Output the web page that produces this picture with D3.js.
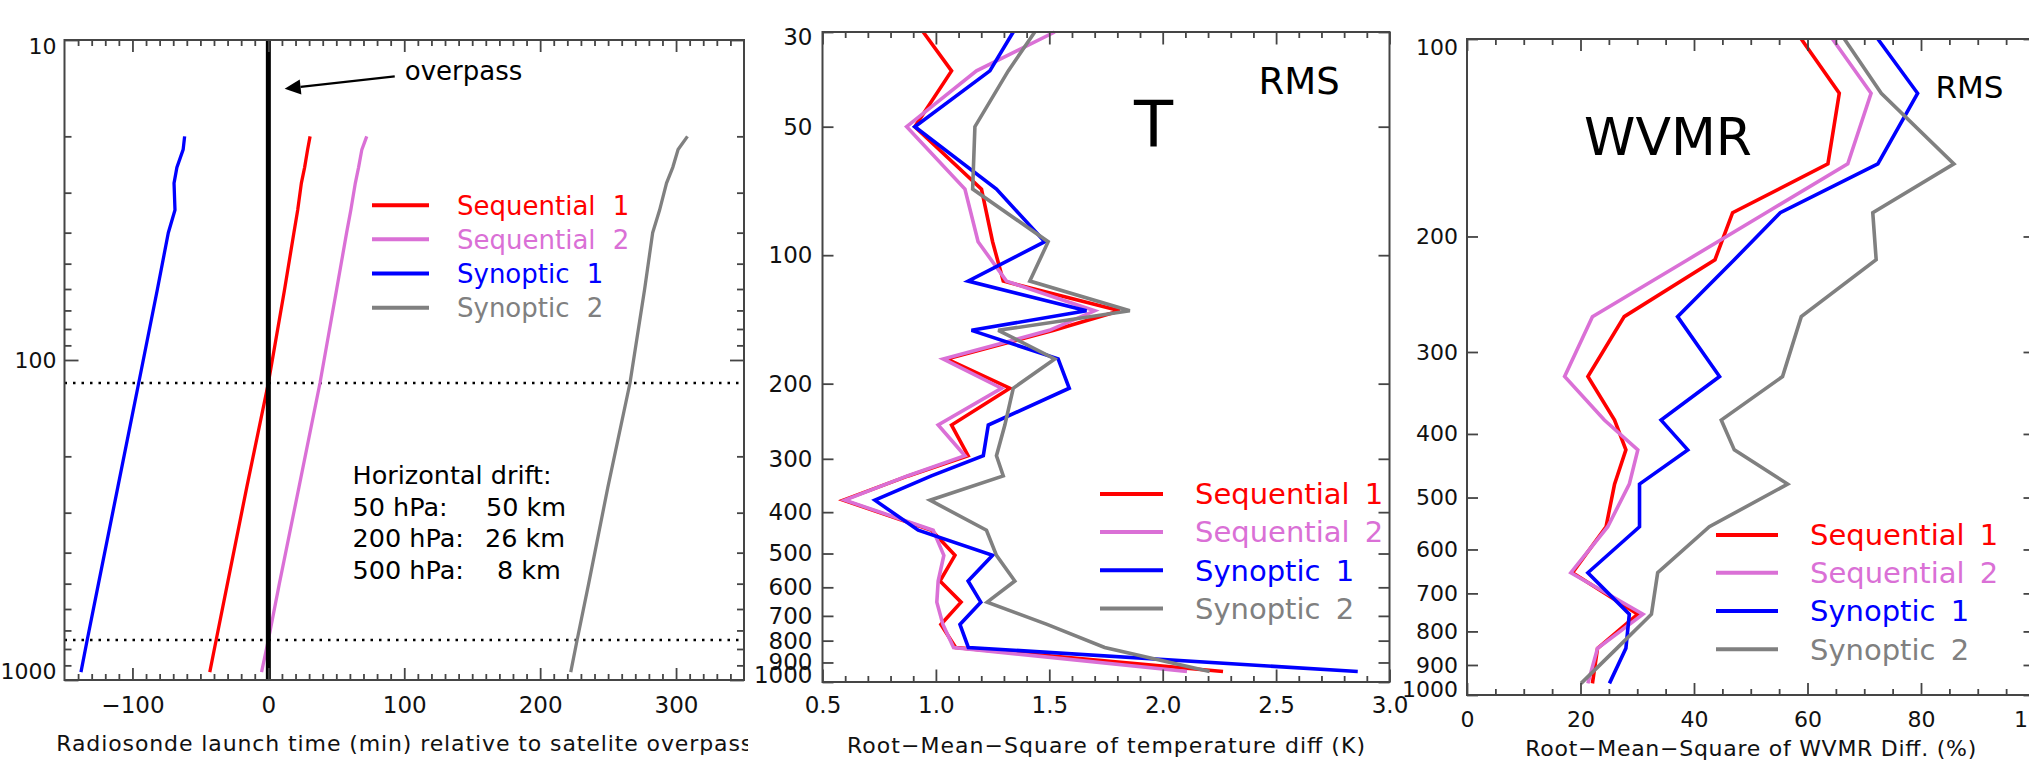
<!DOCTYPE html>
<html>
<head>
<meta charset="utf-8">
<script src="https://cdn.jsdelivr.net/npm/d3@7"></script>
<style>
  html, body { margin: 0; padding: 0; background: #fff; }
  svg { display: block; }
  text { font-family: "DejaVu Sans", sans-serif; }
</style>
</head>
<body>
<svg id="fig" width="2029" height="767"></svg>
<script>
// ---------------- data ----------------
const seriesNames  = ["Sequential 1", "Sequential 2", "Synoptic 1", "Synoptic 2"];
const seriesColors = ["#ff0000", "#da70d6", "#0000ff", "#808080"];

// Launch time (min, relative to overpass) vs pressure (hPa)
const launchLevels = [20, 22, 25, 28, 34, 40, 60, 118, 250, 500, 750, 945];
const launchSeq1 = [30.7, 28.9, 26.7, 24.3, 21.6, 18.8, 12.0, 0, -15.9, -30.1, -38.4, -43.1];
const launchSeq2 = [72.4, 68.8, 66.4, 64.0, 60.7, 57.6, 50.3, 38.0, 22.5, 8.1, 0, -5.0];
const launchSyn1 = [-61.6, -62.7, -67.3, -69.4, -68.7, -73.6, -81.6, -95.4, -110.8, -125.0, -133.3, -137.9];
const launchSyn2 = [308.4, 301.5, 297.6, 293.0, 287.9, 282.8, 276.9, 266.1, 249.8, 235.7, 227.2, 222.5];
const overpassLevels = [118, 750];

// Temperature RMS difference (K)
const tLevels = [30, 37, 50, 70, 93, 115, 135, 150, 175, 205, 250, 295, 329, 375, 441, 505, 580, 650, 733, 830, 945];
const tSeq1 = [0.944, 1.069, 0.907, 1.201, 1.250, 1.297, 1.811, 1.520, 1.047, 1.326, 1.069, 1.142, 0.878, 0.592, 0.981, 1.084, 1.018, 1.111, 1.022, 1.087, 2.266];
const tSeq2 = [1.524, 1.179, 0.871, 1.128, 1.186, 1.311, 1.700, 1.500, 1.032, 1.289, 1.010, 1.128, 0.874, 0.599, 0.988, 1.035, 1.010, 1.004, 1.031, 1.078, 2.107];
const tSyn1 = [1.341, 1.238, 0.907, 1.267, 1.480, 1.142, 1.664, 1.157, 1.539, 1.588, 1.231, 1.209, 0.980, 0.731, 0.922, 1.250, 1.142, 1.198, 1.106, 1.143, 2.860];
const tSyn2 = [1.436, 1.319, 1.172, 1.162, 1.495, 1.414, 1.855, 1.275, 1.524, 1.341, 1.304, 1.267, 1.297, 0.974, 1.223, 1.267, 1.348, 1.226, 1.490, 1.744, 2.207];

// Water vapour mixing ratio RMS difference (%)
const wLevels = [100, 121, 155, 184, 217, 265, 327, 381, 423, 477, 554, 651, 753, 849, 960];
const wSeq1 = [58.9, 65.6, 63.6, 46.8, 43.7, 27.7, 21.3, 26.0, 28.0, 26.0, 24.5, 18.6, 30.1, 23.0, 22.1];
const wSeq2 = [64.4, 71.2, 67.1, 52.7, 38.9, 22.1, 17.2, 24.2, 30.1, 28.6, 24.8, 18.3, 31.0, 23.0, 21.3];
const wSyn1 = [72.4, 79.4, 72.4, 55.2, 47.1, 37.1, 44.5, 34.2, 38.9, 30.4, 30.4, 21.3, 28.6, 28.0, 25.1];
const wSyn2 = [66.5, 73.0, 85.8, 71.5, 72.1, 58.9, 55.6, 44.8, 47.1, 56.5, 42.7, 33.6, 32.5, 26.4, 20.1];

// ---------------- drawing ----------------
const svg = d3.select("#fig");
svg.append("rect").attr("width", 2029).attr("height", 767).attr("fill", "#fff");

const FRAME = "#454545";
const range = (a, b, s) => d3.range(a, b + s / 2, s).map(v => +v.toFixed(6));

function axesBox(g, x, y, o) {
  const [x0, x1] = x.range();
  const [y0, y1] = y.range();
  const xMinor = o.xMinor.filter(v => !o.xMajor.some(m => Math.abs(m - v) < 1e-9));
  const yMinor = (o.yMinor || []).filter(v => !o.yMajor.some(m => Math.abs(m - v) < 1e-9));

  const parts = [];
  // bottom, with labels
  parts.push(g.append("g").attr("transform", `translate(0,${y1})`)
    .call(d3.axisBottom(x).tickValues(o.xMajor).tickSize(-o.xMajorLen).tickSizeOuter(0)
      .tickPadding(o.xPad).tickFormat(o.xFormat)));
  parts.push(g.append("g").attr("transform", `translate(0,${y1})`)
    .call(d3.axisBottom(x).tickValues(xMinor).tickSize(-o.xMinorLen).tickSizeOuter(0).tickFormat("")));
  // top mirror
  parts.push(g.append("g").attr("transform", `translate(0,${y0})`)
    .call(d3.axisTop(x).tickValues(o.xMajor).tickSize(-o.xMajorLen).tickSizeOuter(0).tickFormat("")));
  parts.push(g.append("g").attr("transform", `translate(0,${y0})`)
    .call(d3.axisTop(x).tickValues(xMinor).tickSize(-o.xMinorLen).tickSizeOuter(0).tickFormat("")));
  // left, with labels
  const left = g.append("g").attr("transform", `translate(${x0},0)`)
    .call(d3.axisLeft(y).tickValues(o.yMajor).tickSize(-o.yMajorLen).tickSizeOuter(0)
      .tickPadding(o.yPad).tickFormat(d => String(d)));
  parts.push(left);
  parts.push(g.append("g").attr("transform", `translate(${x0},0)`)
    .call(d3.axisLeft(y).tickValues(yMinor).tickSize(-o.yMinorLen).tickSizeOuter(0).tickFormat("")));
  // right mirror
  parts.push(g.append("g").attr("transform", `translate(${x1},0)`)
    .call(d3.axisRight(y).tickValues(o.yMajor).tickSize(-o.yMajorLen).tickSizeOuter(0).tickFormat("")));
  parts.push(g.append("g").attr("transform", `translate(${x1},0)`)
    .call(d3.axisRight(y).tickValues(yMinor).tickSize(-o.yMinorLen).tickSizeOuter(0).tickFormat("")));

  parts.forEach(p => {
    p.attr("font-family", null).attr("font-size", null);
    p.select(".domain").remove();
    p.selectAll(".tick line").attr("stroke", FRAME).attr("stroke-width", 1.8);
    p.selectAll(".tick text").attr("fill", "#111").style("font-size", o.fontSize + "px");
  });
  left.selectAll(".tick text").style("font-size", (o.yFontSize || o.fontSize) + "px");

  // the end labels of the pressure axis sit inside the frame
  const lt = left.selectAll(".tick text");
  lt.filter((d, i) => i === 0).attr("y", o.firstShift);
  lt.filter((d, i, n) => i === n.length - 1).attr("y", o.lastShift);

  g.append("rect")
    .attr("x", x0).attr("y", y0).attr("width", x1 - x0).attr("height", y1 - y0)
    .attr("fill", "none").attr("stroke", FRAME).attr("stroke-width", 2);

  g.append("text")
    .attr("x", (x0 + x1) / 2).attr("y", o.titleY)
    .attr("text-anchor", "middle")
    .attr("textLength", o.titleLen).attr("lengthAdjust", "spacing")
    .style("font-size", "22px").attr("fill", "#111")
    .text(o.title);
}

function drawSeries(g, x, y, levels, arrays, width) {
  const line = d3.line().x(d => x(d.v)).y(d => y(d.p));
  arrays.forEach((arr, k) => {
    const pts = levels.map((p, i) => ({ p, v: arr[i] }));
    g.append("path").datum(pts)
      .attr("d", line)
      .attr("fill", "none")
      .attr("stroke", seriesColors[k])
      .attr("stroke-width", width)
      .attr("stroke-linejoin", "miter")
      .attr("stroke-miterlimit", 3);
  });
}

function drawLegend(g, x0, x1, tx, ys, fs, ws) {
  seriesNames.forEach((name, k) => {
    g.append("line")
      .attr("x1", x0).attr("x2", x1).attr("y1", ys[k]).attr("y2", ys[k])
      .attr("stroke", seriesColors[k]).attr("stroke-width", 4);
    g.append("text")
      .attr("x", tx).attr("y", ys[k] + fs * 0.36)
      .attr("fill", seriesColors[k])
      .style("font-size", fs + "px")
      .style("word-spacing", ws + "px")
      .text(name);
  });
}

// ---- Panel 1: launch time ----
svg.append("defs").append("clipPath").attr("id", "clip-launch")
  .append("rect").attr("x", 0).attr("y", 0).attr("width", 748).attr("height", 767);
const g1 = svg.append("g").attr("clip-path", "url(#clip-launch)");
const x1s = d3.scaleLinear().domain([-150, 350]).range([64.5, 744]);
const y1s = d3.scaleLog().domain([10, 1000]).range([40, 680]);

// overpass reference lines
overpassLevels.forEach(p => {
  g1.append("line")
    .attr("x1", x1s.range()[0]).attr("x2", x1s.range()[1])
    .attr("y1", y1s(p)).attr("y2", y1s(p))
    .attr("stroke", "#000").attr("stroke-width", 2.4).attr("stroke-dasharray", "2.5,6");
});

drawSeries(g1, x1s, y1s, launchLevels, [launchSeq1, launchSeq2, launchSyn1, launchSyn2], 3.3);

g1.append("line")
  .attr("x1", x1s(0)).attr("x2", x1s(0)).attr("y1", y1s(10)).attr("y2", y1s(1000))
  .attr("stroke", "#000").attr("stroke-width", 5);

axesBox(g1, x1s, y1s, {
  xMajor: [-100, 0, 100, 200, 300], xMinor: range(-140, 340, 10),
  yMajor: [10, 100, 1000], yMinor: [20, 30, 40, 50, 60, 70, 80, 90, 200, 300, 400, 500, 600, 700, 800, 900],
  xMajorLen: 12, xMinorLen: 6, yMajorLen: 14, yMinorLen: 7,
  xPad: 17, yPad: 8, fontSize: 23, yFontSize: 22,
  xFormat: d => d < 0 ? "\u2212" + Math.abs(d) : String(d),
  firstShift: 6, lastShift: -9,
  title: "Radiosonde launch time (min) relative to satelite overpass",
  titleY: 751, titleLen: 696
});

// arrow pointing at the overpass line
const arrowFrom = [93, 13.0], arrowTo = [12, 14.2];
{
  const ax0 = x1s(arrowFrom[0]), ay0 = y1s(arrowFrom[1]);
  const ax1 = x1s(arrowTo[0]), ay1 = y1s(arrowTo[1]);
  const ang = Math.atan2(ay1 - ay0, ax1 - ax0);
  const L = 16, Wd = 7.5;
  const bx = ax1 - L * Math.cos(ang), by = ay1 - L * Math.sin(ang);
  g1.append("line").attr("x1", ax0).attr("y1", ay0).attr("x2", bx).attr("y2", by)
    .attr("stroke", "#000").attr("stroke-width", 2.2);
  g1.append("path")
    .attr("d", `M${ax1},${ay1} L${bx - Wd * Math.sin(ang)},${by + Wd * Math.cos(ang)} L${bx + Wd * Math.sin(ang)},${by - Wd * Math.cos(ang)} Z`)
    .attr("fill", "#000");
  g1.append("text").attr("x", ax0 + 10).attr("y", ay0 + 4)
    .style("font-size", "26px").attr("fill", "#000").text("overpass");
}

drawLegend(g1, 372, 429, 457, [205.3, 239.2, 273.4, 307.8], 26, 9);

// drift notes
const driftRows = [["Horizontal drift:", ""], ["50 hPa:", "50 km"], ["200 hPa:", "26 km"], ["500 hPa:", "8 km"]];
const driftCol2 = [0, 486, 485, 497];
driftRows.forEach((r, i) => {
  const yy = 484 + i * 31.7;
  g1.append("text").attr("x", 352.5).attr("y", yy).style("font-size", "25.5px").attr("fill", "#000").text(r[0]);
  if (r[1]) g1.append("text").attr("x", driftCol2[i]).attr("y", yy).style("font-size", "25.5px").attr("fill", "#000").text(r[1]);
});

// ---- Panel 2: temperature ----
const g2 = svg.append("g");
const x2s = d3.scaleLinear().domain([0.5, 3.0]).range([822.5, 1389.5]);
const y2s = d3.scaleLog().domain([30, 1000]).range([32, 682]);
drawSeries(g2, x2s, y2s, tLevels, [tSeq1, tSeq2, tSyn1, tSyn2], 3.6);
axesBox(g2, x2s, y2s, {
  xMajor: range(0.5, 3.0, 0.5), xMinor: range(0.5, 3.0, 0.1),
  yMajor: [30, 50, 100, 200, 300, 400, 500, 600, 700, 800, 900, 1000], yMinor: [],
  xMajorLen: 12.5, xMinorLen: 6, yMajorLen: 11, yMinorLen: 0,
  xPad: 15, yPad: 10, fontSize: 23,
  xFormat: d3.format(".1f"),
  firstShift: 5, lastShift: -7,
  title: "Root\u2212Mean\u2212Square of temperature diff (K)",
  titleY: 753, titleLen: 518
});
g2.append("text").attr("x", 1134).attr("y", 146.5).style("font-size", "64px").attr("fill", "#000").text("T");
g2.append("text").attr("x", 1258.5).attr("y", 93.5).style("font-size", "37px").attr("fill", "#000").text("RMS");
drawLegend(g2, 1100, 1163, 1195, [494, 532, 570.3, 608.5], 29, 6);

// ---- Panel 3: water vapour ----
const g3 = svg.append("g");
const x3s = d3.scaleLinear().domain([0, 100]).range([1467, 2034.5]);
const y3s = d3.scaleLog().domain([100, 1000]).range([39, 695]);
drawSeries(g3, x3s, y3s, wLevels, [wSeq1, wSeq2, wSyn1, wSyn2], 3.6);
axesBox(g3, x3s, y3s, {
  xMajor: range(0, 100, 20), xMinor: range(0, 100, 5),
  yMajor: range(100, 1000, 100), yMinor: [],
  xMajorLen: 12, xMinorLen: 6, yMajorLen: 11, yMinorLen: 0,
  xPad: 16, yPad: 9, fontSize: 22,
  xFormat: d => String(d),
  firstShift: 8, lastShift: -6,
  title: "Root\u2212Mean\u2212Square of WVMR Diff. (%)",
  titleY: 756, titleLen: 451
});
g3.append("text").attr("x", 1584).attr("y", 155).style("font-size", "52px").attr("fill", "#000").text("WVMR");
g3.append("text").attr("x", 1935.5).attr("y", 97.5).style("font-size", "31px").attr("fill", "#000").text("RMS");
drawLegend(g3, 1716, 1778, 1810, [535, 572.7, 611, 649.3], 29, 6);
</script>
</body>
</html>
